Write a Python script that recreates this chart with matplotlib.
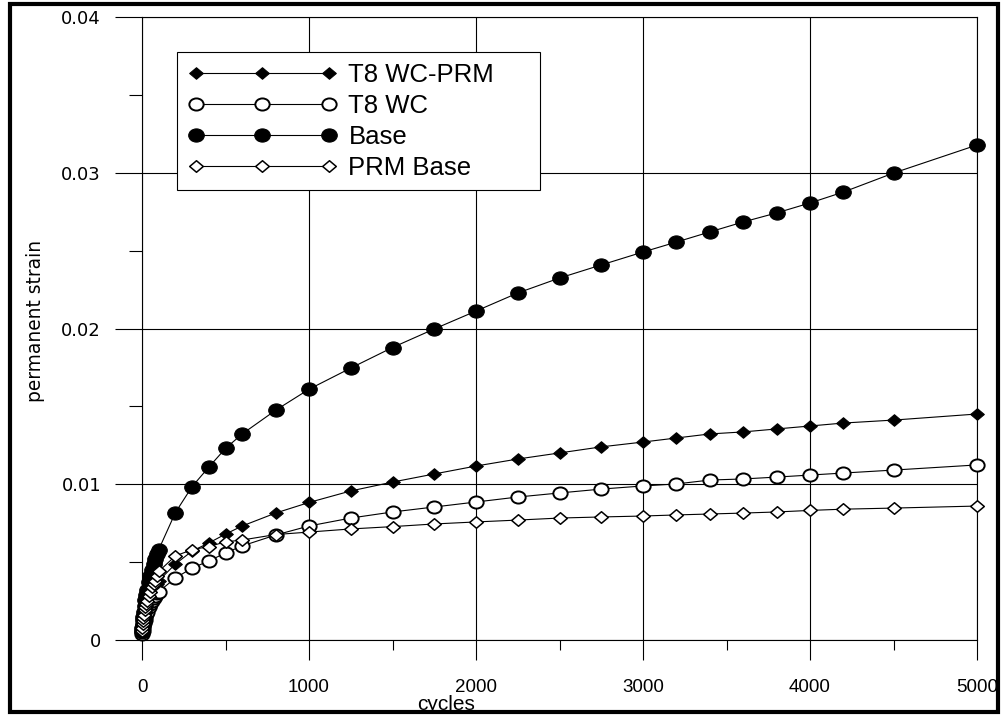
import numpy as np
import matplotlib
matplotlib.use('Agg')
import matplotlib.pyplot as plt
from matplotlib.path import Path
from matplotlib.ticker import MultipleLocator, FuncFormatter
from matplotlib.patches import Rectangle
from matplotlib import font_manager

# ---------------- data ----------------
cycles = [1, 2, 3, 5, 7, 10, 15, 20, 25, 30, 40, 50, 60, 70, 80, 90, 100,
          200, 300, 400, 500, 600, 800, 1000, 1250, 1500, 1750, 2000, 2250,
          2500, 2750, 3000, 3200, 3400, 3600, 3800, 4000, 4200, 4500, 5000]

t8_wc_prm = [0.0005, 0.0007, 0.0008, 0.0010, 0.0012, 0.0014, 0.0017, 0.0019, 0.0021,
             0.0023, 0.0026, 0.0029, 0.0031, 0.0033, 0.0035, 0.0036, 0.0038,
             0.00488, 0.00571, 0.00623, 0.0068, 0.00732, 0.00815, 0.00883, 0.00957,
             0.01014, 0.01066, 0.01117, 0.01162, 0.01201, 0.0124, 0.01271, 0.01297,
             0.01323, 0.01336, 0.01355, 0.01374, 0.01393, 0.01412, 0.01451]

t8_wc = [0.0004, 0.0005, 0.0006, 0.0008, 0.0009, 0.0011, 0.0013, 0.0015, 0.0017,
         0.0018, 0.0021, 0.0023, 0.0025, 0.0027, 0.0028, 0.0030, 0.0031,
         0.00398, 0.00462, 0.00507, 0.00559, 0.00604, 0.00674, 0.00732, 0.00783,
         0.00822, 0.00854, 0.00886, 0.00918, 0.00944, 0.00969, 0.00989, 0.01002,
         0.01027, 0.01034, 0.01046, 0.01059, 0.01072, 0.01091, 0.01124]

base = [0.0006, 0.0008, 0.0010, 0.0013, 0.0015, 0.0018, 0.0022, 0.0026, 0.0029,
        0.0032, 0.0037, 0.0041, 0.0045, 0.0049, 0.0052, 0.0055, 0.0058,
        0.00818, 0.00985, 0.0111, 0.0123, 0.01323, 0.01475, 0.0161, 0.01746,
        0.01878, 0.01997, 0.02112, 0.02228, 0.02324, 0.02408, 0.02491, 0.02555,
        0.0262, 0.02684, 0.02742, 0.02806, 0.02876, 0.02998, 0.03178]

prm_base = [0.0006, 0.0008, 0.0010, 0.0012, 0.0014, 0.0016, 0.0019, 0.0021, 0.0023,
            0.0025, 0.0028, 0.0031, 0.0034, 0.0036, 0.0038, 0.0041, 0.0044,
            0.0054, 0.0058, 0.0060, 0.0063, 0.00642, 0.00677, 0.00693, 0.00713,
            0.00728, 0.00745, 0.00758, 0.0077, 0.00783, 0.0079, 0.00796, 0.00803,
            0.00809, 0.00815, 0.00822, 0.00832, 0.0084, 0.00847, 0.0086]

series_labels = ['T8 WC-PRM', 'T8 WC', 'Base', 'PRM Base']

x_ticks = [0, 1000, 2000, 3000, 4000, 5000]
y_ticks = [0, 0.01, 0.02, 0.03, 0.04]

# ---------------- fonts ----------------
names = {f.name for f in font_manager.fontManager.ttflist}
if 'Liberation Sans Narrow' in names:
    xfont, xsize, xlabsize = 'Liberation Sans Narrow', 16, 18
else:
    xfont, xsize, xlabsize = 'Liberation Sans', 13.5, 15

# ---------------- markers (slightly wide shapes) ----------------
ratio = 1.18
circ = Path.unit_circle()
ellipse = Path(circ.vertices * np.array([1.0, 1.0 / ratio]), circ.codes)
h = 1.0 / ratio
diamond = Path([(1, 0), (0, h), (-1, 0), (0, -h), (1, 0)],
               [Path.MOVETO, Path.LINETO, Path.LINETO, Path.LINETO, Path.CLOSEPOLY])

fig = plt.figure(figsize=(10.02, 7.17), dpi=100)
ax = fig.add_axes([142 / 1002, 1 - 640 / 717, 835 / 1002, 623 / 717])

styles = [
    dict(marker=diamond, ms=9.8, mfc='black', mec='black', mew=0.8),
    dict(marker=ellipse, ms=10.3, mfc='white', mec='black', mew=1.4),
    dict(marker=ellipse, ms=11.2, mfc='black', mec='black', mew=0.8),
    dict(marker=diamond, ms=9.8, mfc='white', mec='black', mew=1.1),
]
data = [t8_wc_prm, t8_wc, base, prm_base]
handles = []
for i, (vals, lab, st) in enumerate(zip(data, series_labels, styles)):
    ln, = ax.plot(cycles, vals, color='black', lw=0.8, label=lab,
                  clip_on=False, zorder=3 + i, **st)
    handles.append(ln)

ax.set_xlim(0, 5000)
ax.set_ylim(0, 0.04)
ax.set_xticks(x_ticks)
ax.set_yticks(y_ticks)
ax.xaxis.set_minor_locator(MultipleLocator(500))
ax.yaxis.set_minor_locator(MultipleLocator(0.005))
ax.yaxis.set_major_formatter(FuncFormatter(lambda v, p: '0' if abs(v) < 1e-12 else f'{v:.2f}'))
ax.xaxis.set_major_formatter(FuncFormatter(lambda v, p: f'{int(round(v))}'))

ax.grid(True, which='major', color='black', lw=0.8, zorder=1)
ax.set_axisbelow(True)
for s in ax.spines.values():
    s.set_linewidth(0.8)
    s.set_color('black')

ax.tick_params(axis='x', which='major', direction='out', length=20 * 0.72, width=0.8,
               pad=14)
ax.tick_params(axis='x', which='minor', direction='out', length=10 * 0.72, width=0.8)
ax.tick_params(axis='y', which='major', direction='out', length=27 * 0.72, width=0.8,
               pad=10)
ax.tick_params(axis='y', which='minor', direction='out', length=13 * 0.72, width=0.8)

for t in ax.get_xticklabels():
    t.set_fontfamily(xfont)
    t.set_fontsize(xsize)
for t in ax.get_yticklabels():
    t.set_fontfamily('DejaVu Sans')
    t.set_fontsize(13)

fig.text(446 / 1002, 1 - 705 / 717, 'cycles', ha='center', va='center',
         family=xfont, fontsize=xlabsize)
fig.text(36 / 1002, 1 - 321 / 717, 'permanent strain', ha='center', va='center',
         rotation=90, family='DejaVu Sans', fontsize=13.4)

leg = ax.legend(handles=handles, loc='upper left',
                bbox_to_anchor=(35 / 835, (640 - 188) / 623, 363 / 835, 136 / 623),
                mode='expand', borderaxespad=0, numpoints=3, markerscale=1.0,
                handlelength=5.8, handletextpad=0.45, labelspacing=0.27,
                borderpad=0.42, fancybox=False, shadow=False, framealpha=1,
                edgecolor='black', prop={'family': 'Liberation Sans', 'size': 18.5})
leg.get_frame().set_linewidth(0.8)
leg.set_zorder(10)

fig.patches.append(Rectangle((10 / 1002, 5 / 717), 988 / 1002, 708 / 717,
                             transform=fig.transFigure, fill=False, lw=3,
                             edgecolor='black'))

fig.savefig('out.png', dpi=100)
